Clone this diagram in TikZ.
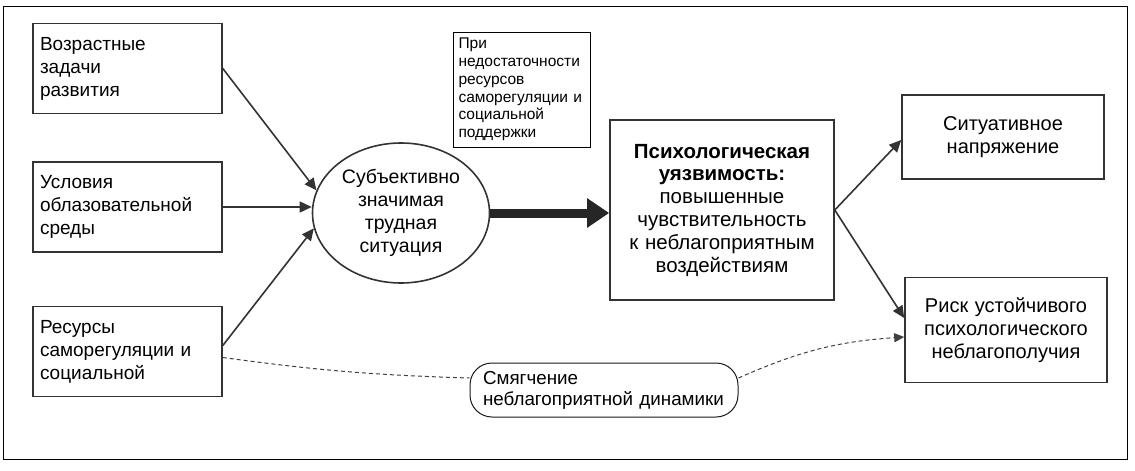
\documentclass[tikz,border=0pt]{standalone}
\usepackage{fontspec}
\setmainfont{Liberation Sans}
\usetikzlibrary{arrows.meta}
\usetikzlibrary{shapes.geometric}

\begin{document}
\begin{tikzpicture}[x=1pt, y=-1pt,
    factor/.style={draw=black!80, line width=1.6pt, minimum width=189pt, minimum height=90pt,
      text width=175pt, inner sep=0pt, align=left, font=\fontsize{19}{23}\selectfont},
    result/.style={draw=black!80, line width=1.6pt, minimum width=202pt,
      text width=190pt, inner sep=0pt, align=center, font=\fontsize{20}{23}\selectfont},
    link/.style={draw=black!80, line width=1.6pt, -{Triangle[length=12pt,width=11pt]}},
    soft/.style={draw=black!75, line width=1pt, dash pattern=on 4pt off 3pt}]
      \useasboundingbox (0,0) rectangle (1135,471);
      \draw[line width=1pt] (3,6) rectangle (1127,459);

      % left column
      \node[factor] (age) at (127.5,68.5) {Возрастные\\задачи\\развития};
      \node[factor] (edu) at (127.5,207) {Условия\\облазовательной\\среды};
      \node[factor] (res) at (127.5,351.5) {Ресурсы\\саморегуляции и\\социальной};

      % centre
      \node[ellipse, draw=black!80, line width=1.6pt, minimum width=177pt, minimum height=140pt,
        inner sep=0pt, align=center, font=\fontsize{19.5}{23}\selectfont]
        (hard) at (401,213) {Субъективно\\значимая\\трудная\\ситуация};
      \node[draw, line width=0.8pt, minimum width=137pt, minimum height=115pt, text width=126pt,
        inner sep=0pt, align=left, font=\fontsize{15.5}{17.7}\selectfont]
        (lack) at (521.5,89.5) {При\\недостаточности\\ресурсов\\саморегуляции и\\социальной\\поддержки};
      \node[draw=black!80, line width=1.6pt, minimum width=224pt, minimum height=180pt, text width=215pt,
        inner sep=0pt, align=center, font=\fontsize{20.5}{22.8}\selectfont]
        (vuln) at (722,210) {\textbf{Психологическая}\\\textbf{уязвимость:}\\повышенные\\чувствительность\\к неблагоприятным\\воздействиям};

      % right column
      \node[result, minimum height=84pt] (tens) at (1003,137) {Ситуативное\\напряжение};
      \node[result, minimum height=105pt] (risk) at (1006,330) {Риск устойчивого\\психологического\\неблагополучия};

      % buffer
      \node[draw=black!90, line width=1pt, rounded corners=22pt, minimum width=268pt, minimum height=54pt,
        text width=242pt, inner sep=0pt, align=left, font=\fontsize{18.8}{21}\selectfont]
        (soften) at (604,390) {Смягчение\\неблагоприятной динамики};

      \draw[link] (age.east) -- (hard.165);
      \draw[link] (edu.east) -- (edu.east -| hard.west);
      \draw[link] ([yshift=6pt]res.east) -- (hard.190);
      \draw[draw=black!85, line width=9pt, -{Triangle[length=22pt,width=28pt]}]
        (hard.east) -- (hard.east -| vuln.west);
      \draw[link] (vuln.east) -- ([yshift=-3pt]tens.west);
      \draw[link] (vuln.east) -- ([yshift=12pt]risk.west);

      \draw[soft] ([yshift=-6pt]res.east) to[bend right=3] ([yshift=12pt]soften.west);
      \draw[soft, -{Triangle[length=10pt,width=9pt]}] ([yshift=12pt]soften.east) to[bend left=10] ([yshift=-7pt]risk.west);
    \end{tikzpicture}
\end{document}
